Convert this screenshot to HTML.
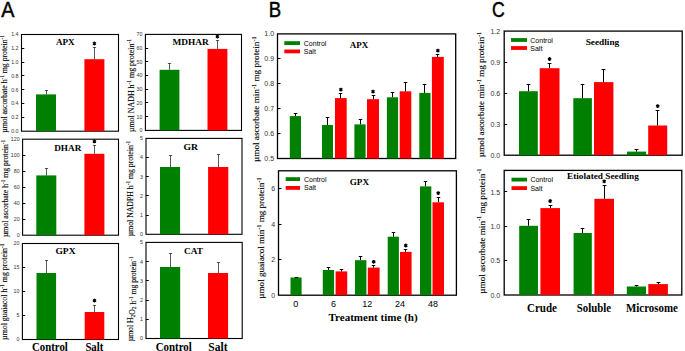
<!DOCTYPE html>
<html><head><meta charset="utf-8"><style>
html,body{margin:0;padding:0;background:#fff;}
body{width:685px;height:351px;overflow:hidden;font-family:"Liberation Sans",sans-serif;}
svg{display:block;}
</style></head><body>
<svg width="685" height="351" viewBox="0 0 685 351">
<rect width="685" height="351" fill="#fff"/>
<text transform="translate(1.26,16.70) scale(0.9184,1)" font-family='"Liberation Sans", sans-serif' font-size="21.51" stroke="#000" stroke-width="0.44">A</text>
<text transform="translate(268.67,16.70) scale(0.8419,1)" font-family='"Liberation Sans", sans-serif' font-size="22.09" stroke="#000" stroke-width="0.48">B</text>
<text transform="translate(492.10,17.29) scale(0.8184,1)" font-family='"Liberation Sans", sans-serif' font-size="21.61" stroke="#000" stroke-width="0.49">C</text>
<rect x="21.5" y="34.5" width="97.0" height="96.69999999999999" fill="none" stroke="#000" stroke-width="1.1"/>
<line x1="21.5" y1="117.50" x2="24.3" y2="117.50" stroke="#000" stroke-width="1.0"/>
<line x1="21.5" y1="103.50" x2="24.3" y2="103.50" stroke="#000" stroke-width="1.0"/>
<line x1="21.5" y1="89.50" x2="24.3" y2="89.50" stroke="#000" stroke-width="1.0"/>
<line x1="21.5" y1="75.50" x2="24.3" y2="75.50" stroke="#000" stroke-width="1.0"/>
<line x1="21.5" y1="62.50" x2="24.3" y2="62.50" stroke="#000" stroke-width="1.0"/>
<line x1="21.5" y1="48.50" x2="24.3" y2="48.50" stroke="#000" stroke-width="1.0"/>
<text x="18.5" y="133.11" font-family='"Liberation Sans", sans-serif' font-size="5.3" text-anchor="end" fill="#333">0.0</text>
<text x="18.5" y="119.29" font-family='"Liberation Sans", sans-serif' font-size="5.3" text-anchor="end" fill="#333">0.2</text>
<text x="18.5" y="105.48" font-family='"Liberation Sans", sans-serif' font-size="5.3" text-anchor="end" fill="#333">0.4</text>
<text x="18.5" y="91.67" font-family='"Liberation Sans", sans-serif' font-size="5.3" text-anchor="end" fill="#333">0.6</text>
<text x="18.5" y="77.85" font-family='"Liberation Sans", sans-serif' font-size="5.3" text-anchor="end" fill="#333">0.8</text>
<text x="18.5" y="64.04" font-family='"Liberation Sans", sans-serif' font-size="5.3" text-anchor="end" fill="#333">1.0</text>
<text x="18.5" y="50.22" font-family='"Liberation Sans", sans-serif' font-size="5.3" text-anchor="end" fill="#333">1.2</text>
<text x="18.5" y="36.41" font-family='"Liberation Sans", sans-serif' font-size="5.3" text-anchor="end" fill="#333">1.4</text>
<text x="55.9" y="44.82" font-family='"Liberation Serif", serif' font-weight="bold" font-size="9.2" textLength="18.7" lengthAdjust="spacingAndGlyphs">APX</text>
<rect x="36" y="94.4" width="20" height="36.79999999999998" fill="#008000"/>
<line x1="46.5" y1="94.4" x2="46.5" y2="90.5" stroke="#000" stroke-width="0.65"/>
<line x1="44.9" y1="90.5" x2="48.1" y2="90.5" stroke="#000" stroke-width="0.65"/>
<rect x="84.4" y="59.2" width="20.0" height="71.99999999999999" fill="#ff0000"/>
<line x1="94.5" y1="59.2" x2="94.5" y2="47.5" stroke="#000" stroke-width="0.65"/>
<line x1="92.9" y1="47.5" x2="96.1" y2="47.5" stroke="#000" stroke-width="0.65"/>
<path d="M94.40,41.60L94.40,45.40M96.05,42.55L92.75,44.45M96.05,44.45L92.75,42.55" stroke="#000" stroke-width="1.25" fill="none"/>
<circle cx="94.40" cy="43.50" r="1.1" fill="#000"/>
<rect x="22.6" y="139.2" width="95.9" height="96.0" fill="none" stroke="#000" stroke-width="1.1"/>
<line x1="22.6" y1="219.50" x2="25.400000000000002" y2="219.50" stroke="#000" stroke-width="1.0"/>
<line x1="22.6" y1="203.50" x2="25.400000000000002" y2="203.50" stroke="#000" stroke-width="1.0"/>
<line x1="22.6" y1="187.50" x2="25.400000000000002" y2="187.50" stroke="#000" stroke-width="1.0"/>
<line x1="22.6" y1="171.50" x2="25.400000000000002" y2="171.50" stroke="#000" stroke-width="1.0"/>
<line x1="22.6" y1="155.50" x2="25.400000000000002" y2="155.50" stroke="#000" stroke-width="1.0"/>
<text x="19.6" y="237.11" font-family='"Liberation Sans", sans-serif' font-size="5.3" text-anchor="end" fill="#333">0</text>
<text x="19.6" y="221.11" font-family='"Liberation Sans", sans-serif' font-size="5.3" text-anchor="end" fill="#333">20</text>
<text x="19.6" y="205.11" font-family='"Liberation Sans", sans-serif' font-size="5.3" text-anchor="end" fill="#333">40</text>
<text x="19.6" y="189.11" font-family='"Liberation Sans", sans-serif' font-size="5.3" text-anchor="end" fill="#333">60</text>
<text x="19.6" y="173.11" font-family='"Liberation Sans", sans-serif' font-size="5.3" text-anchor="end" fill="#333">80</text>
<text x="19.6" y="157.11" font-family='"Liberation Sans", sans-serif' font-size="5.3" text-anchor="end" fill="#333">100</text>
<text x="19.6" y="141.11" font-family='"Liberation Sans", sans-serif' font-size="5.3" text-anchor="end" fill="#333">120</text>
<text x="54.2" y="150.62" font-family='"Liberation Serif", serif' font-weight="bold" font-size="9.2" textLength="27.1" lengthAdjust="spacingAndGlyphs">DHAR</text>
<rect x="36.3" y="175.4" width="20.0" height="59.79999999999998" fill="#008000"/>
<line x1="46.5" y1="175.4" x2="46.5" y2="168.5" stroke="#000" stroke-width="0.65"/>
<line x1="44.9" y1="168.5" x2="48.1" y2="168.5" stroke="#000" stroke-width="0.65"/>
<rect x="84.4" y="153.8" width="20.0" height="81.39999999999998" fill="#ff0000"/>
<line x1="94.5" y1="153.8" x2="94.5" y2="145.5" stroke="#000" stroke-width="0.65"/>
<line x1="92.9" y1="145.5" x2="96.1" y2="145.5" stroke="#000" stroke-width="0.65"/>
<path d="M94.40,139.50L94.40,143.30M96.05,140.45L92.75,142.35M96.05,142.35L92.75,140.45" stroke="#000" stroke-width="1.25" fill="none"/>
<circle cx="94.40" cy="141.40" r="1.1" fill="#000"/>
<rect x="22.4" y="243.5" width="96.1" height="96.0" fill="none" stroke="#000" stroke-width="1.1"/>
<line x1="22.4" y1="315.50" x2="25.2" y2="315.50" stroke="#000" stroke-width="1.0"/>
<line x1="22.4" y1="291.50" x2="25.2" y2="291.50" stroke="#000" stroke-width="1.0"/>
<line x1="22.4" y1="267.50" x2="25.2" y2="267.50" stroke="#000" stroke-width="1.0"/>
<text x="19.4" y="341.41" font-family='"Liberation Sans", sans-serif' font-size="5.3" text-anchor="end" fill="#333">0</text>
<text x="19.4" y="317.41" font-family='"Liberation Sans", sans-serif' font-size="5.3" text-anchor="end" fill="#333">5</text>
<text x="19.4" y="293.41" font-family='"Liberation Sans", sans-serif' font-size="5.3" text-anchor="end" fill="#333">10</text>
<text x="19.4" y="269.41" font-family='"Liberation Sans", sans-serif' font-size="5.3" text-anchor="end" fill="#333">15</text>
<text x="19.4" y="245.41" font-family='"Liberation Sans", sans-serif' font-size="5.3" text-anchor="end" fill="#333">20</text>
<text x="55.5" y="253.82" font-family='"Liberation Serif", serif' font-weight="bold" font-size="9.2" textLength="20.0" lengthAdjust="spacingAndGlyphs">GPX</text>
<rect x="36.5" y="273" width="19.6" height="66.5" fill="#008000"/>
<line x1="46.5" y1="273" x2="46.5" y2="260.5" stroke="#000" stroke-width="0.65"/>
<line x1="44.9" y1="260.5" x2="48.1" y2="260.5" stroke="#000" stroke-width="0.65"/>
<rect x="84.7" y="312" width="19.599999999999994" height="27.5" fill="#ff0000"/>
<line x1="94.5" y1="312" x2="94.5" y2="305.5" stroke="#000" stroke-width="0.65"/>
<line x1="92.9" y1="305.5" x2="96.1" y2="305.5" stroke="#000" stroke-width="0.65"/>
<path d="M94.50,298.70L94.50,302.50M96.15,299.65L92.85,301.55M96.15,301.55L92.85,299.65" stroke="#000" stroke-width="1.25" fill="none"/>
<circle cx="94.50" cy="300.60" r="1.1" fill="#000"/>
<rect x="145.4" y="34.4" width="96.1" height="96.0" fill="none" stroke="#000" stroke-width="1.1"/>
<line x1="145.4" y1="116.50" x2="148.20000000000002" y2="116.50" stroke="#000" stroke-width="1.0"/>
<line x1="145.4" y1="102.50" x2="148.20000000000002" y2="102.50" stroke="#000" stroke-width="1.0"/>
<line x1="145.4" y1="89.50" x2="148.20000000000002" y2="89.50" stroke="#000" stroke-width="1.0"/>
<line x1="145.4" y1="75.50" x2="148.20000000000002" y2="75.50" stroke="#000" stroke-width="1.0"/>
<line x1="145.4" y1="61.50" x2="148.20000000000002" y2="61.50" stroke="#000" stroke-width="1.0"/>
<line x1="145.4" y1="48.50" x2="148.20000000000002" y2="48.50" stroke="#000" stroke-width="1.0"/>
<text x="142.4" y="132.31" font-family='"Liberation Sans", sans-serif' font-size="5.3" text-anchor="end" fill="#333">0</text>
<text x="142.4" y="118.59" font-family='"Liberation Sans", sans-serif' font-size="5.3" text-anchor="end" fill="#333">10</text>
<text x="142.4" y="104.88" font-family='"Liberation Sans", sans-serif' font-size="5.3" text-anchor="end" fill="#333">20</text>
<text x="142.4" y="91.17" font-family='"Liberation Sans", sans-serif' font-size="5.3" text-anchor="end" fill="#333">30</text>
<text x="142.4" y="77.45" font-family='"Liberation Sans", sans-serif' font-size="5.3" text-anchor="end" fill="#333">40</text>
<text x="142.4" y="63.74" font-family='"Liberation Sans", sans-serif' font-size="5.3" text-anchor="end" fill="#333">50</text>
<text x="142.4" y="50.02" font-family='"Liberation Sans", sans-serif' font-size="5.3" text-anchor="end" fill="#333">60</text>
<text x="142.4" y="36.31" font-family='"Liberation Sans", sans-serif' font-size="5.3" text-anchor="end" fill="#333">70</text>
<text x="172.4" y="45.22" font-family='"Liberation Serif", serif' font-weight="bold" font-size="9.2" textLength="36.3" lengthAdjust="spacingAndGlyphs">MDHAR</text>
<rect x="159.6" y="69.8" width="19.80000000000001" height="60.60000000000001" fill="#008000"/>
<line x1="169.5" y1="69.8" x2="169.5" y2="63.5" stroke="#000" stroke-width="0.65"/>
<line x1="167.9" y1="63.5" x2="171.1" y2="63.5" stroke="#000" stroke-width="0.65"/>
<rect x="207.5" y="48.9" width="19.900000000000006" height="81.5" fill="#ff0000"/>
<line x1="217.5" y1="48.9" x2="217.5" y2="40.5" stroke="#000" stroke-width="0.65"/>
<line x1="215.9" y1="40.5" x2="219.1" y2="40.5" stroke="#000" stroke-width="0.65"/>
<path d="M217.45,34.60L217.45,38.40M219.10,35.55L215.80,37.45M219.10,37.45L215.80,35.55" stroke="#000" stroke-width="1.25" fill="none"/>
<circle cx="217.45" cy="36.50" r="1.1" fill="#000"/>
<rect x="146.0" y="138.4" width="96.0" height="95.9" fill="none" stroke="#000" stroke-width="1.1"/>
<line x1="146.0" y1="215.50" x2="148.8" y2="215.50" stroke="#000" stroke-width="1.0"/>
<line x1="146.0" y1="195.50" x2="148.8" y2="195.50" stroke="#000" stroke-width="1.0"/>
<line x1="146.0" y1="176.50" x2="148.8" y2="176.50" stroke="#000" stroke-width="1.0"/>
<line x1="146.0" y1="157.50" x2="148.8" y2="157.50" stroke="#000" stroke-width="1.0"/>
<text x="143.0" y="236.21" font-family='"Liberation Sans", sans-serif' font-size="5.3" text-anchor="end" fill="#333">0</text>
<text x="143.0" y="217.03" font-family='"Liberation Sans", sans-serif' font-size="5.3" text-anchor="end" fill="#333">1</text>
<text x="143.0" y="197.85" font-family='"Liberation Sans", sans-serif' font-size="5.3" text-anchor="end" fill="#333">2</text>
<text x="143.0" y="178.67" font-family='"Liberation Sans", sans-serif' font-size="5.3" text-anchor="end" fill="#333">3</text>
<text x="143.0" y="159.49" font-family='"Liberation Sans", sans-serif' font-size="5.3" text-anchor="end" fill="#333">4</text>
<text x="143.0" y="140.31" font-family='"Liberation Sans", sans-serif' font-size="5.3" text-anchor="end" fill="#333">5</text>
<text x="183.5" y="150.42" font-family='"Liberation Serif", serif' font-weight="bold" font-size="9.2" textLength="14.5" lengthAdjust="spacingAndGlyphs">GR</text>
<rect x="160" y="167" width="20.099999999999994" height="67.30000000000001" fill="#008000"/>
<line x1="170.5" y1="167" x2="170.5" y2="155.5" stroke="#000" stroke-width="0.65"/>
<line x1="168.9" y1="155.5" x2="172.1" y2="155.5" stroke="#000" stroke-width="0.65"/>
<rect x="208.1" y="167" width="20.200000000000017" height="67.30000000000001" fill="#ff0000"/>
<line x1="218.5" y1="167" x2="218.5" y2="154.5" stroke="#000" stroke-width="0.65"/>
<line x1="216.9" y1="154.5" x2="220.1" y2="154.5" stroke="#000" stroke-width="0.65"/>
<rect x="146.0" y="242.4" width="96.19999999999999" height="96.1" fill="none" stroke="#000" stroke-width="1.1"/>
<line x1="146.0" y1="319.50" x2="148.8" y2="319.50" stroke="#000" stroke-width="1.0"/>
<line x1="146.0" y1="300.50" x2="148.8" y2="300.50" stroke="#000" stroke-width="1.0"/>
<line x1="146.0" y1="280.50" x2="148.8" y2="280.50" stroke="#000" stroke-width="1.0"/>
<line x1="146.0" y1="261.50" x2="148.8" y2="261.50" stroke="#000" stroke-width="1.0"/>
<text x="143.0" y="340.41" font-family='"Liberation Sans", sans-serif' font-size="5.3" text-anchor="end" fill="#333">0</text>
<text x="143.0" y="321.19" font-family='"Liberation Sans", sans-serif' font-size="5.3" text-anchor="end" fill="#333">1</text>
<text x="143.0" y="301.97" font-family='"Liberation Sans", sans-serif' font-size="5.3" text-anchor="end" fill="#333">2</text>
<text x="143.0" y="282.75" font-family='"Liberation Sans", sans-serif' font-size="5.3" text-anchor="end" fill="#333">3</text>
<text x="143.0" y="263.53" font-family='"Liberation Sans", sans-serif' font-size="5.3" text-anchor="end" fill="#333">4</text>
<text x="143.0" y="244.31" font-family='"Liberation Sans", sans-serif' font-size="5.3" text-anchor="end" fill="#333">5</text>
<text x="184" y="253.72" font-family='"Liberation Serif", serif' font-weight="bold" font-size="9.2" textLength="19.0" lengthAdjust="spacingAndGlyphs">CAT</text>
<rect x="160" y="267" width="20.19999999999999" height="71.5" fill="#008000"/>
<line x1="170.5" y1="267" x2="170.5" y2="253.5" stroke="#000" stroke-width="0.65"/>
<line x1="168.9" y1="253.5" x2="172.1" y2="253.5" stroke="#000" stroke-width="0.65"/>
<rect x="208" y="273" width="20.099999999999994" height="65.5" fill="#ff0000"/>
<line x1="218.5" y1="273" x2="218.5" y2="262.5" stroke="#000" stroke-width="0.65"/>
<line x1="216.9" y1="262.5" x2="220.1" y2="262.5" stroke="#000" stroke-width="0.65"/>
<text transform="translate(7.30,132.80) rotate(-90)" x="0" y="0" font-family='"Liberation Serif", serif' font-size="7.8" stroke="#000" stroke-width="0.12" textLength="97.7" lengthAdjust="spacingAndGlyphs"><tspan>µmol ascorbate h</tspan><tspan font-size="5.30" dy="-2.96">-1</tspan><tspan dy="2.96"> </tspan><tspan>mg protein</tspan><tspan font-size="5.30" dy="-2.96">-1</tspan></text>
<text transform="translate(7.50,237.10) rotate(-90)" x="0" y="0" font-family='"Liberation Serif", serif' font-size="7.8" stroke="#000" stroke-width="0.12" textLength="97.3" lengthAdjust="spacingAndGlyphs"><tspan>µmol ascorbate h</tspan><tspan font-size="5.30" dy="-2.96">-1</tspan><tspan dy="2.96"> </tspan><tspan>mg protein</tspan><tspan font-size="5.30" dy="-2.96">-1</tspan></text>
<text transform="translate(7.40,339.90) rotate(-90)" x="0" y="0" font-family='"Liberation Serif", serif' font-size="7.8" stroke="#000" stroke-width="0.12" textLength="96.4" lengthAdjust="spacingAndGlyphs"><tspan>µmol guaiacol h</tspan><tspan font-size="5.30" dy="-2.96">-1</tspan><tspan dy="2.96"> </tspan><tspan>mg protein</tspan><tspan font-size="5.30" dy="-2.96">-1</tspan></text>
<text transform="translate(133.90,132.10) rotate(-90)" x="0" y="0" font-family='"Liberation Serif", serif' font-size="7.8" stroke="#000" stroke-width="0.12" textLength="93.1" lengthAdjust="spacingAndGlyphs"><tspan>µmol NADH h</tspan><tspan font-size="5.30" dy="-2.96">-1</tspan><tspan dy="2.96"> </tspan><tspan>mg protein</tspan><tspan font-size="5.30" dy="-2.96">-1</tspan></text>
<text transform="translate(133.00,236.30) rotate(-90)" x="0" y="0" font-family='"Liberation Serif", serif' font-size="7.8" stroke="#000" stroke-width="0.12" textLength="95.5" lengthAdjust="spacingAndGlyphs"><tspan>µmol NADPH h</tspan><tspan font-size="5.30" dy="-2.96">-1</tspan><tspan dy="2.96"> </tspan><tspan>mg protein</tspan><tspan font-size="5.30" dy="-2.96">-1</tspan></text>
<text transform="translate(133.20,341.30) rotate(-90)" x="0" y="0" font-family='"Liberation Serif", serif' font-size="7.8" stroke="#000" stroke-width="0.12" textLength="84.8" lengthAdjust="spacingAndGlyphs"><tspan>µmol H</tspan><tspan font-size="5.46" dy="1.56">2</tspan><tspan dy="-1.56"></tspan><tspan>O</tspan><tspan font-size="5.46" dy="1.56">2</tspan><tspan dy="-1.56"></tspan><tspan> h</tspan><tspan font-size="5.30" dy="-2.96">-1</tspan><tspan dy="2.96"> </tspan><tspan>mg protein</tspan><tspan font-size="5.30" dy="-2.96">-1</tspan></text>
<text x="32" y="351.07" font-family='"Liberation Serif", serif' font-weight="bold" font-size="12.5" textLength="35.8" lengthAdjust="spacingAndGlyphs">Control</text>
<text x="85.4" y="351.07" font-family='"Liberation Serif", serif' font-weight="bold" font-size="12.5" textLength="17.9" lengthAdjust="spacingAndGlyphs">Salt</text>
<text x="155.7" y="351.07" font-family='"Liberation Serif", serif' font-weight="bold" font-size="12.5" textLength="36.1" lengthAdjust="spacingAndGlyphs">Control</text>
<text x="208.3" y="351.07" font-family='"Liberation Serif", serif' font-weight="bold" font-size="12.5" textLength="19.2" lengthAdjust="spacingAndGlyphs">Salt</text>
<rect x="277.5" y="33.9" width="178.2" height="124.6" fill="none" stroke="#000" stroke-width="1.3"/>
<line x1="277.5" y1="133.50" x2="280.5" y2="133.50" stroke="#000" stroke-width="1.0"/>
<line x1="277.5" y1="108.50" x2="280.5" y2="108.50" stroke="#000" stroke-width="1.0"/>
<line x1="277.5" y1="83.50" x2="280.5" y2="83.50" stroke="#000" stroke-width="1.0"/>
<line x1="277.5" y1="58.50" x2="280.5" y2="58.50" stroke="#000" stroke-width="1.0"/>
<text x="274.1" y="161.02" font-family='"Liberation Sans", sans-serif' font-size="7.0" text-anchor="end" fill="#333">0.5</text>
<text x="274.1" y="136.10" font-family='"Liberation Sans", sans-serif' font-size="7.0" text-anchor="end" fill="#333">0.6</text>
<text x="274.1" y="111.18" font-family='"Liberation Sans", sans-serif' font-size="7.0" text-anchor="end" fill="#333">0.7</text>
<text x="274.1" y="86.26" font-family='"Liberation Sans", sans-serif' font-size="7.0" text-anchor="end" fill="#333">0.8</text>
<text x="274.1" y="61.34" font-family='"Liberation Sans", sans-serif' font-size="7.0" text-anchor="end" fill="#333">0.9</text>
<text x="274.1" y="36.42" font-family='"Liberation Sans", sans-serif' font-size="7.0" text-anchor="end" fill="#333">1.0</text>
<text x="349.8" y="48.22" font-family='"Liberation Serif", serif' font-weight="bold" font-size="9.2" textLength="18.4" lengthAdjust="spacingAndGlyphs">APX</text>
<rect x="289.8" y="116.1" width="11.199999999999989" height="42.400000000000006" fill="#008000"/>
<line x1="295.5" y1="116.1" x2="295.5" y2="113.5" stroke="#000" stroke-width="1.0"/>
<line x1="293.75" y1="113.5" x2="297.25" y2="113.5" stroke="#000" stroke-width="1.0"/>
<rect x="322" y="125" width="11" height="33.5" fill="#008000"/>
<line x1="327.5" y1="125" x2="327.5" y2="117.5" stroke="#000" stroke-width="1.0"/>
<line x1="325.75" y1="117.5" x2="329.25" y2="117.5" stroke="#000" stroke-width="1.0"/>
<rect x="335.0" y="98.1" width="11.699999999999989" height="60.400000000000006" fill="#ff0000"/>
<line x1="340.5" y1="98.1" x2="340.5" y2="93.5" stroke="#000" stroke-width="1.0"/>
<line x1="338.75" y1="93.5" x2="342.25" y2="93.5" stroke="#000" stroke-width="1.0"/>
<path d="M340.85,87.70L340.85,91.50M342.50,88.65L339.20,90.55M342.50,90.55L339.20,88.65" stroke="#000" stroke-width="1.25" fill="none"/>
<circle cx="340.85" cy="89.60" r="1.1" fill="#000"/>
<rect x="354.4" y="124.4" width="11.200000000000045" height="34.099999999999994" fill="#008000"/>
<line x1="360.5" y1="124.4" x2="360.5" y2="119.5" stroke="#000" stroke-width="1.0"/>
<line x1="358.75" y1="119.5" x2="362.25" y2="119.5" stroke="#000" stroke-width="1.0"/>
<rect x="367.0" y="99.2" width="12.0" height="59.3" fill="#ff0000"/>
<line x1="373.5" y1="99.2" x2="373.5" y2="95.5" stroke="#000" stroke-width="1.0"/>
<line x1="371.75" y1="95.5" x2="375.25" y2="95.5" stroke="#000" stroke-width="1.0"/>
<path d="M373.00,89.70L373.00,93.50M374.65,90.65L371.35,92.55M374.65,92.55L371.35,90.65" stroke="#000" stroke-width="1.25" fill="none"/>
<circle cx="373.00" cy="91.60" r="1.1" fill="#000"/>
<rect x="386.9" y="97.3" width="11.200000000000045" height="61.2" fill="#008000"/>
<line x1="392.5" y1="97.3" x2="392.5" y2="92.5" stroke="#000" stroke-width="1.0"/>
<line x1="390.75" y1="92.5" x2="394.25" y2="92.5" stroke="#000" stroke-width="1.0"/>
<rect x="399.7" y="91.3" width="11.600000000000023" height="67.2" fill="#ff0000"/>
<line x1="405.5" y1="91.3" x2="405.5" y2="82.5" stroke="#000" stroke-width="1.0"/>
<line x1="403.75" y1="82.5" x2="407.25" y2="82.5" stroke="#000" stroke-width="1.0"/>
<rect x="419.3" y="92.9" width="11.199999999999989" height="65.6" fill="#008000"/>
<line x1="424.5" y1="92.9" x2="424.5" y2="84.5" stroke="#000" stroke-width="1.0"/>
<line x1="422.75" y1="84.5" x2="426.25" y2="84.5" stroke="#000" stroke-width="1.0"/>
<rect x="431.9" y="56.9" width="11.900000000000034" height="101.6" fill="#ff0000"/>
<line x1="437.5" y1="56.9" x2="437.5" y2="54.5" stroke="#000" stroke-width="1.0"/>
<line x1="435.75" y1="54.5" x2="439.25" y2="54.5" stroke="#000" stroke-width="1.0"/>
<path d="M437.85,48.70L437.85,52.50M439.50,49.65L436.20,51.55M439.50,51.55L436.20,49.65" stroke="#000" stroke-width="1.25" fill="none"/>
<circle cx="437.85" cy="50.60" r="1.1" fill="#000"/>
<rect x="284.3" y="41.2" width="15.699999999999989" height="3.8" fill="#008000"/>
<rect x="284.3" y="49.5" width="15.699999999999989" height="3.8" fill="#ff0000"/>
<text x="303.8" y="45.62" font-family='"Liberation Sans", sans-serif' font-size="7.0">Control</text>
<text x="303.8" y="53.92" font-family='"Liberation Sans", sans-serif' font-size="7.0">Salt</text>
<text transform="translate(259.10,162.00) rotate(-90)" x="0" y="0" font-family='"Liberation Serif", serif' font-size="9.1" stroke="#000" stroke-width="0.12" textLength="125.6" lengthAdjust="spacingAndGlyphs"><tspan>µmol ascorbate min</tspan><tspan font-size="6.19" dy="-3.46">-1</tspan><tspan dy="3.46"> </tspan><tspan>mg protein</tspan><tspan font-size="6.19" dy="-3.46">-1</tspan></text>
<rect x="278.5" y="170.8" width="177.89999999999998" height="124.39999999999998" fill="none" stroke="#000" stroke-width="1.3"/>
<line x1="278.5" y1="259.50" x2="281.5" y2="259.50" stroke="#000" stroke-width="1.0"/>
<line x1="278.5" y1="224.50" x2="281.5" y2="224.50" stroke="#000" stroke-width="1.0"/>
<line x1="278.5" y1="188.50" x2="281.5" y2="188.50" stroke="#000" stroke-width="1.0"/>
<text x="275.1" y="297.72" font-family='"Liberation Sans", sans-serif' font-size="7.0" text-anchor="end" fill="#333">0</text>
<text x="275.1" y="262.18" font-family='"Liberation Sans", sans-serif' font-size="7.0" text-anchor="end" fill="#333">2</text>
<text x="275.1" y="226.63" font-family='"Liberation Sans", sans-serif' font-size="7.0" text-anchor="end" fill="#333">4</text>
<text x="275.1" y="191.09" font-family='"Liberation Sans", sans-serif' font-size="7.0" text-anchor="end" fill="#333">6</text>
<text x="349.8" y="185.22" font-family='"Liberation Serif", serif' font-weight="bold" font-size="9.2" textLength="19.2" lengthAdjust="spacingAndGlyphs">GPX</text>
<rect x="290.5" y="277.5" width="11.100000000000023" height="17.69999999999999" fill="#008000"/>
<line x1="296.5" y1="277.5" x2="296.5" y2="277.5" stroke="#000" stroke-width="1.0"/>
<line x1="294.75" y1="277.5" x2="298.25" y2="277.5" stroke="#000" stroke-width="1.0"/>
<rect x="322.8" y="270" width="11.300000000000011" height="25.19999999999999" fill="#008000"/>
<line x1="328.5" y1="270" x2="328.5" y2="267.5" stroke="#000" stroke-width="1.0"/>
<line x1="326.75" y1="267.5" x2="330.25" y2="267.5" stroke="#000" stroke-width="1.0"/>
<rect x="335.6" y="271.4" width="11.599999999999966" height="23.80000000000001" fill="#ff0000"/>
<line x1="341.5" y1="271.4" x2="341.5" y2="269.5" stroke="#000" stroke-width="1.0"/>
<line x1="339.75" y1="269.5" x2="343.25" y2="269.5" stroke="#000" stroke-width="1.0"/>
<rect x="355" y="260.2" width="11.399999999999977" height="35.0" fill="#008000"/>
<line x1="360.5" y1="260.2" x2="360.5" y2="256.5" stroke="#000" stroke-width="1.0"/>
<line x1="358.75" y1="256.5" x2="362.25" y2="256.5" stroke="#000" stroke-width="1.0"/>
<rect x="367.8" y="267.6" width="11.800000000000011" height="27.599999999999966" fill="#ff0000"/>
<line x1="373.5" y1="267.6" x2="373.5" y2="265.5" stroke="#000" stroke-width="1.0"/>
<line x1="371.75" y1="265.5" x2="375.25" y2="265.5" stroke="#000" stroke-width="1.0"/>
<path d="M373.70,259.90L373.70,263.70M375.35,260.85L372.05,262.75M375.35,262.75L372.05,260.85" stroke="#000" stroke-width="1.25" fill="none"/>
<circle cx="373.70" cy="261.80" r="1.1" fill="#000"/>
<rect x="387.7" y="236.7" width="11.199999999999989" height="58.5" fill="#008000"/>
<line x1="393.5" y1="236.7" x2="393.5" y2="232.5" stroke="#000" stroke-width="1.0"/>
<line x1="391.75" y1="232.5" x2="395.25" y2="232.5" stroke="#000" stroke-width="1.0"/>
<rect x="400" y="251.9" width="11.600000000000023" height="43.29999999999998" fill="#ff0000"/>
<line x1="405.5" y1="251.9" x2="405.5" y2="249.5" stroke="#000" stroke-width="1.0"/>
<line x1="403.75" y1="249.5" x2="407.25" y2="249.5" stroke="#000" stroke-width="1.0"/>
<path d="M405.80,243.60L405.80,247.40M407.45,244.55L404.15,246.45M407.45,246.45L404.15,244.55" stroke="#000" stroke-width="1.25" fill="none"/>
<circle cx="405.80" cy="245.50" r="1.1" fill="#000"/>
<rect x="420" y="186.4" width="11.300000000000011" height="108.79999999999998" fill="#008000"/>
<line x1="425.5" y1="186.4" x2="425.5" y2="181.5" stroke="#000" stroke-width="1.0"/>
<line x1="423.75" y1="181.5" x2="427.25" y2="181.5" stroke="#000" stroke-width="1.0"/>
<rect x="432.5" y="202.3" width="11.5" height="92.89999999999998" fill="#ff0000"/>
<line x1="438.5" y1="202.3" x2="438.5" y2="197.5" stroke="#000" stroke-width="1.0"/>
<line x1="436.75" y1="197.5" x2="440.25" y2="197.5" stroke="#000" stroke-width="1.0"/>
<path d="M438.25,191.20L438.25,195.00M439.90,192.15L436.60,194.05M439.90,194.05L436.60,192.15" stroke="#000" stroke-width="1.25" fill="none"/>
<circle cx="438.25" cy="193.10" r="1.1" fill="#000"/>
<rect x="285.7" y="177.2" width="14.300000000000011" height="3.8" fill="#008000"/>
<rect x="285.7" y="186.0" width="14.300000000000011" height="3.8" fill="#ff0000"/>
<text x="304" y="181.62" font-family='"Liberation Sans", sans-serif' font-size="7.0">Control</text>
<text x="304" y="190.42" font-family='"Liberation Sans", sans-serif' font-size="7.0">Salt</text>
<text transform="translate(264.00,298.70) rotate(-90)" x="0" y="0" font-family='"Liberation Serif", serif' font-size="9.1" stroke="#000" stroke-width="0.12" textLength="121.2" lengthAdjust="spacingAndGlyphs"><tspan>µmol guaiacol min</tspan><tspan font-size="6.19" dy="-3.46">-1</tspan><tspan dy="3.46"> </tspan><tspan>mg protein</tspan><tspan font-size="6.19" dy="-3.46">-1</tspan></text>
<text x="295.7" y="307.00" font-family='"Liberation Sans", sans-serif' font-size="9" text-anchor="middle">0</text>
<text x="333.6" y="307.00" font-family='"Liberation Sans", sans-serif' font-size="9" text-anchor="middle">6</text>
<text x="367.2" y="307.00" font-family='"Liberation Sans", sans-serif' font-size="9" text-anchor="middle">12</text>
<text x="399.9" y="307.00" font-family='"Liberation Sans", sans-serif' font-size="9" text-anchor="middle">24</text>
<text x="432.9" y="307.00" font-family='"Liberation Sans", sans-serif' font-size="9" text-anchor="middle">48</text>
<text x="328.5" y="320.95" font-family='"Liberation Serif", serif' font-weight="bold" font-size="11" textLength="89.2" lengthAdjust="spacingAndGlyphs">Treatment time (h)</text>
<rect x="504.2" y="31.1" width="178.00000000000006" height="124.1" fill="none" stroke="#000" stroke-width="1.3"/>
<line x1="504.2" y1="124.50" x2="507.2" y2="124.50" stroke="#000" stroke-width="1.0"/>
<line x1="504.2" y1="93.50" x2="507.2" y2="93.50" stroke="#000" stroke-width="1.0"/>
<line x1="504.2" y1="62.50" x2="507.2" y2="62.50" stroke="#000" stroke-width="1.0"/>
<text x="500.2" y="157.72" font-family='"Liberation Sans", sans-serif' font-size="7.0" text-anchor="end" fill="#333">0.0</text>
<text x="500.2" y="126.69" font-family='"Liberation Sans", sans-serif' font-size="7.0" text-anchor="end" fill="#333">0.3</text>
<text x="500.2" y="95.67" font-family='"Liberation Sans", sans-serif' font-size="7.0" text-anchor="end" fill="#333">0.6</text>
<text x="500.2" y="64.64" font-family='"Liberation Sans", sans-serif' font-size="7.0" text-anchor="end" fill="#333">0.9</text>
<text x="500.2" y="33.62" font-family='"Liberation Sans", sans-serif' font-size="7.0" text-anchor="end" fill="#333">1.2</text>
<text x="585.7" y="45.12" font-family='"Liberation Serif", serif' font-weight="bold" font-size="9.2" textLength="33.5" lengthAdjust="spacingAndGlyphs">Seedling</text>
<rect x="519" y="91.2" width="18.799999999999955" height="63.999999999999986" fill="#008000"/>
<line x1="528.5" y1="91.2" x2="528.5" y2="84.5" stroke="#000" stroke-width="1.0"/>
<line x1="526.65" y1="84.5" x2="530.35" y2="84.5" stroke="#000" stroke-width="1.0"/>
<rect x="539.7" y="68.2" width="19.799999999999955" height="86.99999999999999" fill="#ff0000"/>
<line x1="549.5" y1="68.2" x2="549.5" y2="63.5" stroke="#000" stroke-width="1.0"/>
<line x1="547.65" y1="63.5" x2="551.35" y2="63.5" stroke="#000" stroke-width="1.0"/>
<path d="M549.60,57.10L549.60,60.90M551.25,58.05L547.95,59.95M551.25,59.95L547.95,58.05" stroke="#000" stroke-width="1.25" fill="none"/>
<circle cx="549.60" cy="59.00" r="1.1" fill="#000"/>
<rect x="573.3" y="98.2" width="18.600000000000023" height="56.999999999999986" fill="#008000"/>
<line x1="582.5" y1="98.2" x2="582.5" y2="84.5" stroke="#000" stroke-width="1.0"/>
<line x1="580.65" y1="84.5" x2="584.35" y2="84.5" stroke="#000" stroke-width="1.0"/>
<rect x="594" y="82.1" width="19.399999999999977" height="73.1" fill="#ff0000"/>
<line x1="603.5" y1="82.1" x2="603.5" y2="69.5" stroke="#000" stroke-width="1.0"/>
<line x1="601.65" y1="69.5" x2="605.35" y2="69.5" stroke="#000" stroke-width="1.0"/>
<rect x="627" y="151.6" width="19.100000000000023" height="3.5999999999999943" fill="#008000"/>
<line x1="636.5" y1="151.6" x2="636.5" y2="149.5" stroke="#000" stroke-width="1.0"/>
<line x1="634.65" y1="149.5" x2="638.35" y2="149.5" stroke="#000" stroke-width="1.0"/>
<rect x="648.2" y="125.5" width="19.0" height="29.69999999999999" fill="#ff0000"/>
<line x1="657.5" y1="125.5" x2="657.5" y2="110.5" stroke="#000" stroke-width="1.0"/>
<line x1="655.65" y1="110.5" x2="659.35" y2="110.5" stroke="#000" stroke-width="1.0"/>
<path d="M657.70,104.20L657.70,108.00M659.35,105.15L656.05,107.05M659.35,107.05L656.05,105.15" stroke="#000" stroke-width="1.25" fill="none"/>
<circle cx="657.70" cy="106.10" r="1.1" fill="#000"/>
<rect x="511" y="38.1" width="16" height="3.8" fill="#008000"/>
<rect x="511" y="46.1" width="16" height="3.8" fill="#ff0000"/>
<text x="530.3" y="42.52" font-family='"Liberation Sans", sans-serif' font-size="7.0">Control</text>
<text x="530.3" y="50.52" font-family='"Liberation Sans", sans-serif' font-size="7.0">Salt</text>
<text transform="translate(484.40,157.20) rotate(-90)" x="0" y="0" font-family='"Liberation Serif", serif' font-size="9.1" stroke="#000" stroke-width="0.12" textLength="125.4" lengthAdjust="spacingAndGlyphs"><tspan>µmol ascorbate min</tspan><tspan font-size="6.19" dy="-3.46">-1</tspan><tspan dy="3.46"> </tspan><tspan>mg protein</tspan><tspan font-size="6.19" dy="-3.46">-1</tspan></text>
<rect x="504.2" y="170.4" width="177.59999999999997" height="124.6" fill="none" stroke="#000" stroke-width="1.3"/>
<line x1="504.2" y1="260.50" x2="507.2" y2="260.50" stroke="#000" stroke-width="1.0"/>
<line x1="504.2" y1="226.50" x2="507.2" y2="226.50" stroke="#000" stroke-width="1.0"/>
<line x1="504.2" y1="191.50" x2="507.2" y2="191.50" stroke="#000" stroke-width="1.0"/>
<text x="500.2" y="297.52" font-family='"Liberation Sans", sans-serif' font-size="7.0" text-anchor="end" fill="#333">0.0</text>
<text x="500.2" y="263.19" font-family='"Liberation Sans", sans-serif' font-size="7.0" text-anchor="end" fill="#333">0.5</text>
<text x="500.2" y="228.85" font-family='"Liberation Sans", sans-serif' font-size="7.0" text-anchor="end" fill="#333">1.0</text>
<text x="500.2" y="194.52" font-family='"Liberation Sans", sans-serif' font-size="7.0" text-anchor="end" fill="#333">1.5</text>
<text x="567" y="179.22" font-family='"Liberation Serif", serif' font-weight="bold" font-size="9.2" textLength="71.8" lengthAdjust="spacingAndGlyphs">Etiolated Seedling</text>
<rect x="519.2" y="225.8" width="18.799999999999955" height="69.19999999999999" fill="#008000"/>
<line x1="528.5" y1="225.8" x2="528.5" y2="219.5" stroke="#000" stroke-width="1.0"/>
<line x1="526.65" y1="219.5" x2="530.35" y2="219.5" stroke="#000" stroke-width="1.0"/>
<rect x="540.4" y="208.1" width="19.600000000000023" height="86.9" fill="#ff0000"/>
<line x1="550.5" y1="208.1" x2="550.5" y2="205.5" stroke="#000" stroke-width="1.0"/>
<line x1="548.65" y1="205.5" x2="552.35" y2="205.5" stroke="#000" stroke-width="1.0"/>
<path d="M550.20,199.10L550.20,202.90M551.85,200.05L548.55,201.95M551.85,201.95L548.55,200.05" stroke="#000" stroke-width="1.25" fill="none"/>
<circle cx="550.20" cy="201.00" r="1.1" fill="#000"/>
<rect x="573.6" y="233" width="18.199999999999932" height="62.0" fill="#008000"/>
<line x1="582.5" y1="233" x2="582.5" y2="228.5" stroke="#000" stroke-width="1.0"/>
<line x1="580.65" y1="228.5" x2="584.35" y2="228.5" stroke="#000" stroke-width="1.0"/>
<rect x="594.4" y="198.8" width="19.600000000000023" height="96.19999999999999" fill="#ff0000"/>
<line x1="604.5" y1="198.8" x2="604.5" y2="185.5" stroke="#000" stroke-width="1.0"/>
<line x1="602.65" y1="185.5" x2="606.35" y2="185.5" stroke="#000" stroke-width="1.0"/>
<path d="M604.20,179.40L604.20,183.20M605.85,180.35L602.55,182.25M605.85,182.25L602.55,180.35" stroke="#000" stroke-width="1.25" fill="none"/>
<circle cx="604.20" cy="181.30" r="1.1" fill="#000"/>
<rect x="626.8" y="286.5" width="19.200000000000045" height="8.5" fill="#008000"/>
<line x1="636.5" y1="286.5" x2="636.5" y2="285.5" stroke="#000" stroke-width="1.0"/>
<line x1="634.65" y1="285.5" x2="638.35" y2="285.5" stroke="#000" stroke-width="1.0"/>
<rect x="648.3" y="284.1" width="19.600000000000023" height="10.899999999999977" fill="#ff0000"/>
<line x1="658.5" y1="284.1" x2="658.5" y2="282.5" stroke="#000" stroke-width="1.0"/>
<line x1="656.65" y1="282.5" x2="660.35" y2="282.5" stroke="#000" stroke-width="1.0"/>
<rect x="511.5" y="177.7" width="15.5" height="3.8" fill="#008000"/>
<rect x="511.5" y="186.2" width="15.5" height="3.8" fill="#ff0000"/>
<text x="530.4" y="182.12" font-family='"Liberation Sans", sans-serif' font-size="7.0">Control</text>
<text x="530.4" y="190.62" font-family='"Liberation Sans", sans-serif' font-size="7.0">Salt</text>
<text transform="translate(484.50,293.70) rotate(-90)" x="0" y="0" font-family='"Liberation Serif", serif' font-size="9.1" stroke="#000" stroke-width="0.12" textLength="125.1" lengthAdjust="spacingAndGlyphs"><tspan>µmol ascorbate min</tspan><tspan font-size="6.19" dy="-3.46">-1</tspan><tspan dy="3.46"> </tspan><tspan>mg protein</tspan><tspan font-size="6.19" dy="-3.46">-1</tspan></text>
<text x="527" y="311.72" font-family='"Liberation Serif", serif' font-weight="bold" font-size="11.5" textLength="29.9" lengthAdjust="spacingAndGlyphs">Crude</text>
<text x="576.8" y="311.72" font-family='"Liberation Serif", serif' font-weight="bold" font-size="11.5" textLength="34.2" lengthAdjust="spacingAndGlyphs">Soluble</text>
<text x="626" y="311.72" font-family='"Liberation Serif", serif' font-weight="bold" font-size="11.5" textLength="51.9" lengthAdjust="spacingAndGlyphs">Microsome</text>
</svg>
</body></html>
